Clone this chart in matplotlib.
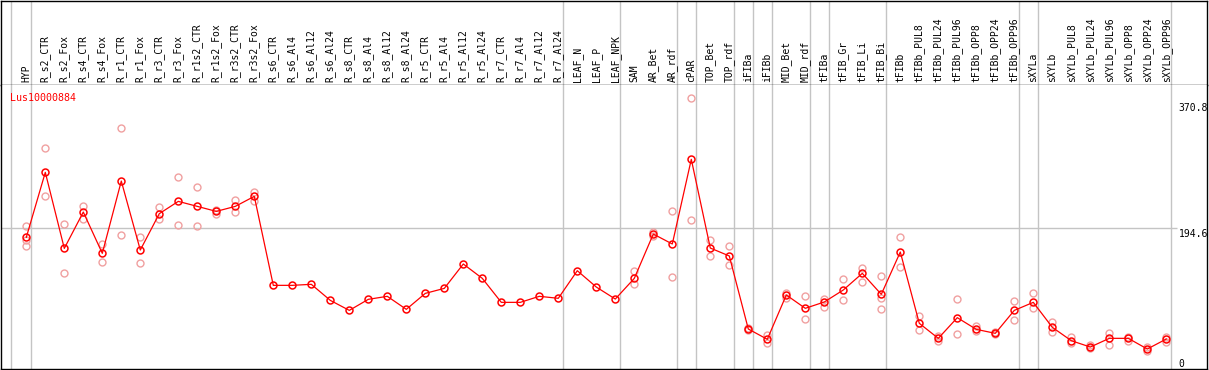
import matplotlib
matplotlib.use('Agg')
import matplotlib.pyplot as plt
from matplotlib.transforms import blended_transform_factory

gene = "Lus10000884"

samples = ["HYP", "R_s2_CTR", "R_s2_Fox", "R_s4_CTR", "R_s4_Fox", "R_r1_CTR", "R_r1_Fox",
           "R_r3_CTR", "R_r3_Fox", "R_r1s2_CTR", "R_r1s2_Fox", "R_r3s2_CTR", "R_r3s2_Fox",
           "R_s6_CTR", "R_s6_Al4", "R_s6_Al12", "R_s6_Al24", "R_s8_CTR", "R_s8_Al4",
           "R_s8_Al12", "R_s8_Al24", "R_r5_CTR", "R_r5_Al4", "R_r5_Al12", "R_r5_Al24",
           "R_r7_CTR", "R_r7_Al4", "R_r7_Al12", "R_r7_Al24", "LEAF_N", "LEAF_P", "LEAF_NPK",
           "SAM", "AR_Bet", "AR_rdf", "cPAR", "TOP_Bet", "TOP_rdf", "iFIBa", "iFIBb",
           "MID_Bet", "MID_rdf", "tFIBa", "tFIB_Gr", "tFIB_Li", "tFIB_Bi", "tFIBb",
           "tFIBb_PUL8", "tFIBb_PUL24", "tFIBb_PUL96", "tFIBb_OPP8", "tFIBb_OPP24",
           "tFIBb_OPP96", "sXYLa", "sXYLb", "sXYLb_PUL8", "sXYLb_PUL24", "sXYLb_PUL96",
           "sXYLb_OPP8", "sXYLb_OPP24", "sXYLb_OPP96"]

mean_vals = [181.9, 270.2, 166.9, 216.3, 160.2, 258.4, 164.7, 214.1, 230.8, 224.0,
             217.2, 224.0, 237.6, 116.7, 116.7, 118.1, 96.3, 82.7, 97.7, 101.8,
             84.1, 105.8, 112.6, 145.7, 126.2, 93.6, 93.6, 101.8, 99.1, 136.6,
             114.4, 98.1, 126.2, 186.4, 172.9, 287.9, 167.4, 156.6, 57.4, 43.4,
             103.6, 85.5, 94.1, 110.4, 133.0, 104.5, 162.0, 65.1, 44.7, 72.8,
             56.9, 51.5, 82.7, 93.6, 59.7, 41.5, 32.9, 44.7, 44.7, 30.2, 43.8]

replicates = [[197.3, 178.3, 169.7], [302.8, 237.6], [199.6, 133.5], [224.5, 206.4],
              [172.9, 148.0], [330.0, 184.6], [181.9, 146.6], [223.1, 207.3],
              [263.4, 198.2], [249.8, 196.9], [219.0, 213.6], [232.2, 216.8],
              [243.5, 231.7], [], [], [], [], [], [], [], [], [], [], [], [], [], [], [],
              [], [], [], [], [136.2, 118.1], [189.6, 184.2], [217.2, 127.6],
              [370.7, 205.0], [178.3, 156.1], [170.2, 143.9], [58.3, 56.5], [49.2, 37.9],
              [106.8, 99.1], [101.8, 70.5], [97.7, 87.7], [124.9, 96.8], [139.8, 120.8],
              [129.4, 100.0, 84.6], [182.4, 141.6], [75.1, 56.0], [47.9, 41.5],
              [97.7, 50.1], [61.5, 54.2], [53.0, 50.0], [95.4, 69.2], [105.8, 85.5],
              [66.9, 52.9], [46.1, 37.9], [35.0, 31.0], [52.4, 35.7], [47.0, 41.5],
              [33.4, 28.0], [47.0, 39.3]]

group_ends = [0, 28, 31, 34, 35, 37, 38, 39, 41, 42, 45, 52, 53, 60]
y_labels = ["370.8", "194.6", "0"]
y_label_vals = [370.8, 194.6, 0]
grid_val = 194.6

W, H = 1209, 370
fig = plt.figure(figsize=(W / 100, H / 100), dpi=100)
fig.patch.set_facecolor('white')

def add_ax(x0, y0, x1, y1):
    return fig.add_axes([x0 / W, 1 - y1 / H, (x1 - x0) / W, (y1 - y0) / H])

x_left = (1 - 26.3) / 19
x_right = (1207 - 26.3) / 19
sep_color = '#c4c4c4'
sep_pos = [-0.82] + [g + 0.232 for g in group_ends]

# header
hax = add_ax(1, 0.5, 1207, 85)
hax.set_xlim(x_left, x_right)
hax.set_ylim(0, 1)
hax.set_xticks([]); hax.set_yticks([])
for s in hax.spines.values():
    s.set_linewidth(1.0); s.set_color('black')
for p in sep_pos:
    hax.axvline(p, color=sep_color, lw=1.0, zorder=0)
tr = blended_transform_factory(hax.transData, hax.transAxes)
for i, name in enumerate(samples):
    hax.text(i, 2.5 / 84.5, name, rotation=90, ha='center', va='bottom',
             fontsize=7, family='DejaVu Sans Mono', color='black', transform=tr)

# plot
ax = add_ax(1, 85, 1207, 369)
ax.set_xlim(x_left, x_right)
ax.set_ylim(3.05, 388.9)
ax.set_xticks([]); ax.set_yticks([])
for s in ax.spines.values():
    s.set_linewidth(1.0); s.set_color('black')
ax.spines['top'].set_visible(False)
for p in sep_pos:
    ax.axvline(p, color=sep_color, lw=1.0, zorder=0)
ax.hlines(grid_val, x_left, 60.55, color=sep_color, lw=1.0, zorder=0)

for i, reps in enumerate(replicates):
    if reps:
        ax.plot([i] * len(reps), reps, linestyle='none', marker='o', ms=5.0,
                mfc='none', mec='#f0a0a0', mew=1.0, zorder=2)
ax.plot(range(len(mean_vals)), mean_vals, color='#ff0000', lw=0.9, marker='o', ms=5.0,
        mfc='none', mec='#ff0000', mew=1.1, zorder=3)

ax.text(9.3 / 1206, 1 - 8 / 284, gene, transform=ax.transAxes, ha='left', va='top',
        fontsize=7.2, family='DejaVu Sans Mono', color='#ff0000')

label_tops = [102.7, 229.3, 358.7]
for lab, top in zip(y_labels, label_tops):
    fig.text(1178.7 / W, 1 - top / H, lab, ha='left', va='top', fontsize=7,
             family='DejaVu Sans Mono', color='black')

fig.savefig('out.png', dpi=100, facecolor='white')
